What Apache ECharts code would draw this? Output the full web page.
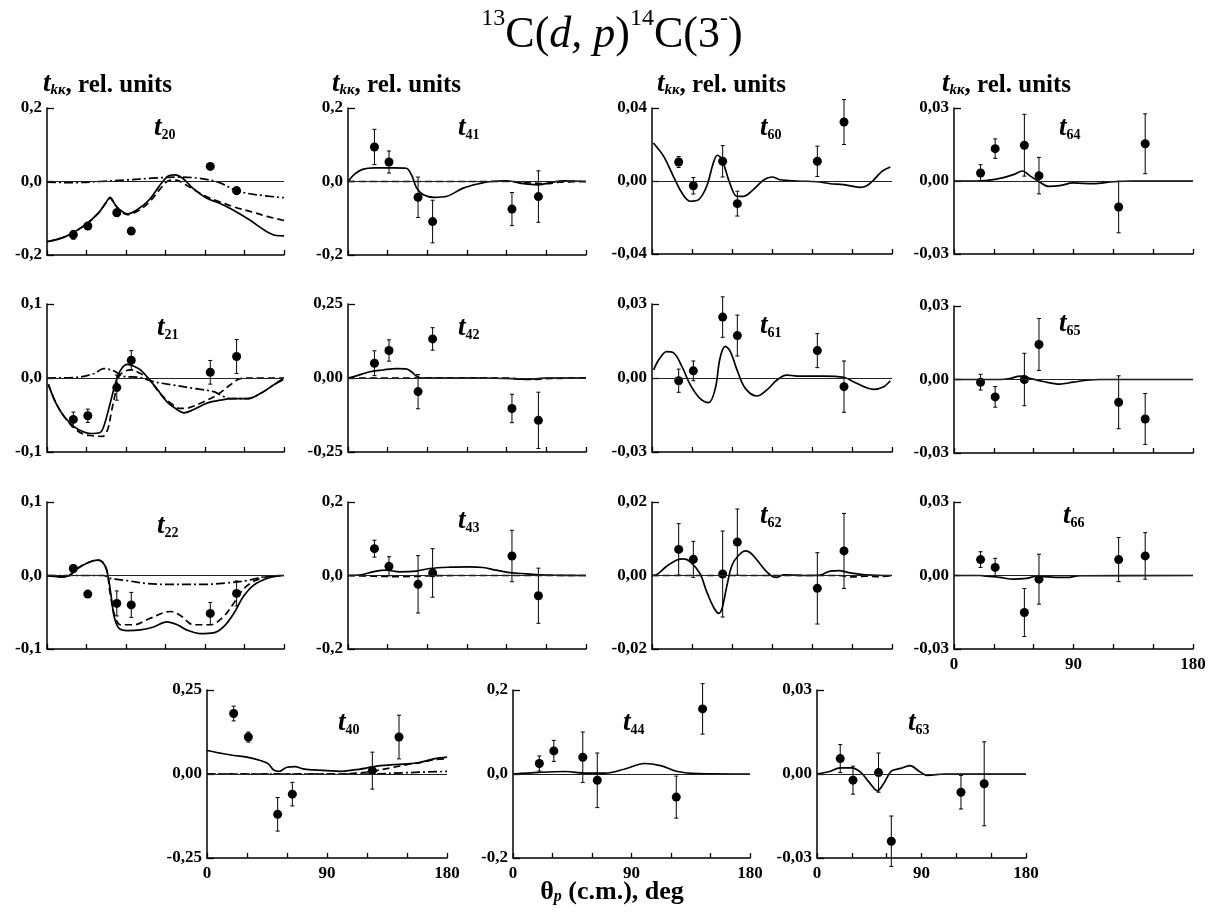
<!DOCTYPE html>
<html>
<head>
<meta charset="utf-8">
<script src="https://cdn.jsdelivr.net/npm/echarts@6/dist/echarts.min.js"></script>
<style>
html, body { margin: 0; padding: 0; background: #fff; }
#chart { width: 1224px; height: 918px; }
</style>
</head>
<body>
<div id="chart"></div>
<script>
// angles (deg, c.m.) of the measured points, same in every panel
var ANG = [20, 31, 53, 64, 124, 144];

// ---- t20 ----
var t20_val = [-0.145, -0.121, -0.085, -0.135, 0.041, -0.025];
var t20_err = [0.012, 0.008, 0.01, 0.008, 0.005, 0.01];
var t20_solid = [[0,-0.164],[14,-0.150],[29,-0.118],[39,-0.086],[44.5,-0.059],[48,-0.043],[51,-0.059],[54.7,-0.075],[61,-0.088],[70,-0.073],[77.6,-0.05],[85,-0.014],[91.6,0.014],[97,0.018],[103,0.009],[110.7,-0.018],[121,-0.045],[131,-0.059],[141,-0.077],[154,-0.105],[166.7,-0.136],[174,-0.147],[180,-0.148]];
var t20_dash = [[0,-0.164],[14,-0.150],[29,-0.118],[39,-0.086],[44.5,-0.059],[48,-0.045],[51,-0.06],[55,-0.077],[61,-0.09],[70,-0.078],[78,-0.055],[86,-0.02],[93,0.003],[98,0.004],[105,-0.008],[113,-0.025],[121,-0.041],[131,-0.055],[141,-0.068],[156,-0.083],[167,-0.095],[180,-0.106]];
var t20_dot = [[0,-0.002],[20,-0.003],[40,0],[60,0.004],[80,0.009],[100,0.012],[115,0.009],[131,-0.003],[144,-0.025],[159,-0.036],[180,-0.044]];

// ---- t41 ----
var t41_val = [0.094, 0.053, -0.043, -0.109, -0.075, -0.041];
var t41_err = [0.048, 0.03, 0.055, 0.058, 0.045, 0.07];
var t41_solid = [[0,0],[5,0.02],[11,0.033],[20,0.037],[35,0.037],[44,0.036],[48,0.018],[52,-0.018],[57,-0.036],[65,-0.043],[75,-0.04],[87,-0.018],[100,-0.005],[108,0],[120,0.002],[133,-0.006],[143,-0.009],[153,-0.003],[163,0.002],[180,0]];
var t41_dash = [[0,0],[120,0],[140,-0.004],[150,-0.006],[160,-0.002],[180,0]];

// ---- t60 ----
var t60_val = [0.0104, -0.0026, 0.0108, -0.0124, 0.0108, 0.0323];
var t60_err = [0.003, 0.0045, 0.0086, 0.0068, 0.0083, 0.0123];
var t60_solid = [[1,0.0208],[8.75,0.0135],[16,0.0026],[22.5,-0.0066],[28.75,-0.0111],[35,-0.0102],[41,-0.0029],[46,0.0099],[49,0.0141],[52.5,0.0117],[58.75,-0.002],[63.75,-0.0084],[68.75,-0.0084],[76,-0.0047],[84,0.0007],[90,0.0022],[96,0.0007],[108.75,0],[123.75,-0.0004],[133.75,-0.0015],[143.75,-0.002],[156,-0.0035],[161,-0.0026],[166,0.0004],[172.5,0.0053],[178.75,0.0077]];

// ---- t64 ----
var t64_val = [0.0033, 0.0133, 0.0147, 0.0022, -0.0107, 0.0153];
var t64_err = [0.0034, 0.004, 0.0127, 0.0075, 0.0106, 0.0123];
var t64_solid = [[0,0],[17,0],[32,0.0008],[44.6,0.0026],[51.6,0.0041],[57,0.0022],[64.7,-0.0005],[71,-0.0022],[79.7,-0.0019],[89.7,-0.0008],[104.8,-0.0011],[119.8,-0.0003],[135,0],[180,0]];

// ---- t21 ----
var t21_val = [-0.056, -0.051, -0.013, 0.024, 0.0077, 0.029];
var t21_err = [0.01, 0.009, 0.017, 0.013, 0.016, 0.023];
var t21_solid = [[1,-0.0086],[6.8,-0.034],[13,-0.052],[20.7,-0.066],[28,-0.073],[33,-0.075],[40,-0.074],[43,-0.066],[48,-0.034],[52,-0.007],[56,0.011],[61,0.0185],[66,0.016],[71,0.011],[77,-0.0005],[84,-0.016],[91,-0.032],[99,-0.043],[104,-0.047],[111,-0.043],[121.5,-0.034],[131.6,-0.03],[141.7,-0.028],[151.8,-0.028],[162,-0.021],[172,-0.0095],[179.5,-0.002]];
var t21_dash = [[1,-0.0086],[6.8,-0.034],[13,-0.052],[20.7,-0.068],[28,-0.076],[35,-0.078],[42,-0.079],[46,-0.07],[49,-0.045],[52,-0.02],[54.7,0.002],[58.5,0.0086],[63.5,0.011],[71,0.006],[77,-0.0005],[86,-0.021],[94,-0.034],[101,-0.041],[108,-0.04],[119,-0.032],[129,-0.023],[139,-0.0095],[146,-0.0014],[155,0],[180,0]];
var t21_dot = [[0,0],[23,0.001],[35.8,0.006],[43,0.0127],[51,0.0095],[58.5,0.002],[70,0.001],[81,-0.005],[96,-0.0095],[111,-0.014],[126.6,-0.0185],[134,-0.025],[140,-0.028],[152,-0.028],[162,-0.021],[172,-0.0095],[180,0]];

// ---- t42 ----
var t42_val = [0.05, 0.093, -0.046, 0.132, -0.103, -0.143];
var t42_err = [0.042, 0.036, 0.058, 0.038, 0.048, 0.095];
var t42_solid = [[0,0],[6.3,0.007],[16.4,0.021],[26.4,0.027],[36.5,0.032],[44,0.031],[48,0.021],[51.6,0.007],[55.4,0],[100,0],[125,-0.002],[132,-0.004],[142,-0.003],[150,0],[180,0]];
var t42_dash = [[0,0],[120,0],[130,-0.004],[140,-0.005],[150,-0.002],[180,0]];

// ---- t61 ----
var t61_val = [-0.0011, 0.0029, 0.0247, 0.0172, 0.0111, -0.0035];
var t61_err = [0.0047, 0.004, 0.0082, 0.0083, 0.0069, 0.0104];
var t61_solid = [[1.25,0.0033],[5,0.0073],[11,0.0107],[16,0.0103],[22.5,0.0046],[28.75,-0.0028],[36,-0.0083],[42.5,-0.01],[47.5,-0.0042],[51,0.008],[55,0.0128],[58.75,0.0107],[63.75,0.0033],[70,-0.0042],[78.75,-0.0073],[86,-0.0049],[93.75,-0.0008],[101,0.0012],[108.75,0.0008],[128.75,0.0008],[143.75,0.0003],[151,-0.0015],[158.75,-0.0035],[166,-0.0046],[173.75,-0.0035],[178.75,-0.0011]];

// ---- t65 ----
var t65_val = [-0.0011, -0.0071, 0, 0.0143, -0.0093, -0.0161];
var t65_err = [0.0032, 0.0042, 0.0107, 0.0106, 0.0108, 0.0104];
var t65_solid = [[0,0],[35,0],[42,0.0004],[50,0.0014],[57,0.0005],[67,-0.0008],[79.7,-0.0019],[89.7,-0.0011],[100,-0.0003],[110,0],[180,0]];

// ---- t22 ----
var t22_val = [0.0095, -0.0253, -0.038, -0.04, -0.0516, -0.0244];
var t22_err = [0.005, 0.004, 0.017, 0.017, 0.015, 0.017];
var t22_solid = [[0,0],[10.6,-0.002],[17,0],[23,0.0095],[32,0.018],[38.3,0.021],[42,0.0186],[45.4,0.0072],[48.4,-0.024],[51,-0.056],[54.7,-0.072],[61,-0.075],[71,-0.074],[81,-0.07],[91,-0.063],[99,-0.067],[106,-0.074],[116.4,-0.079],[126.5,-0.078],[134,-0.07],[141.7,-0.052],[149,-0.029],[157,-0.013],[167,-0.004],[174.4,-0.001],[180,0]];
var t22_dash = [[0,0],[10.6,-0.002],[17,0],[23,0.0095],[32,0.018],[38.3,0.021],[42,0.0186],[45.4,0.0072],[48,-0.025],[52,-0.058],[56,-0.067],[66,-0.067],[78.6,-0.058],[93.8,-0.049],[101,-0.054],[111.4,-0.067],[124,-0.067],[134,-0.056],[141.7,-0.038],[146.7,-0.024],[154,-0.011],[164,-0.003],[172,-0.0005],[180,0]];
var t22_dot = [[0,0],[43,0],[48,-0.004],[61,-0.007],[76,-0.011],[91,-0.012],[106,-0.012],[121,-0.012],[136.6,-0.01],[151.7,-0.007],[164,-0.002],[180,0]];

// ---- t43 ----
var t43_val = [0.073, 0.025, -0.024, 0.007, 0.053, -0.055];
var t43_err = [0.023, 0.026, 0.078, 0.066, 0.07, 0.075];
var t43_solid = [[0,0],[10,0.002],[18.9,0.01],[29,0.0145],[39,0.01],[51.6,0.012],[61.7,0.019],[76.8,0.0226],[92,0.0235],[102,0.0217],[112,0.0145],[122,0.008],[132,0.0054],[142.3,0.0027],[155,0.001],[180,0]];
var t43_dash = [[0,0],[20,-0.002],[40,-0.003],[60,-0.001],[80,0],[180,0]];

// ---- t62 ----
var t62_val = [0.0071, 0.0044, 0.0004, 0.0091, -0.0035, 0.0067];
var t62_err = [0.007, 0.0049, 0.0117, 0.009, 0.0097, 0.0102];
var t62_solid = [[0,0],[3.75,0.0003],[11,0.0025],[18.75,0.0042],[23.75,0.0045],[28.75,0.0037],[36,0.0005],[41,-0.0044],[46,-0.0085],[50,-0.0103],[52.5,-0.009],[56,-0.0031],[60,0.0028],[65,0.0055],[70,0.0067],[73.75,0.0062],[78.75,0.0042],[85,0.0014],[90,-0.0002],[93.75,-0.0005],[98.75,0.0002],[115,0],[126,0.0001],[133.75,0.0012],[140,0.0013],[148.75,0.0007],[160,0.0002],[180,0]];
var t62_dash = [[0,0],[140,0],[150,-0.0004],[160,-0.0002],[170,-0.0003],[180,0]];

// ---- t66 ----
var t66_val = [0.0065, 0.0033, -0.0151, -0.0015, 0.0065, 0.008];
var t66_err = [0.0032, 0.0037, 0.0098, 0.0102, 0.009, 0.0095];
var t66_solid = [[0,0],[20,0],[24.5,-0.0003],[34.6,-0.0008],[44.6,-0.0015],[54.6,-0.0012],[62,-0.0003],[72,-0.0006],[84.7,-0.0008],[95,-0.0001],[180,0]];

// ---- t40 ----
var t40_val = [0.18, 0.11, -0.12, -0.06, 0.01, 0.11];
var t40_err = [0.022, 0.015, 0.05, 0.035, 0.055, 0.065];
var t40_solid = [[0,0.07],[10,0.062],[20,0.055],[30,0.05],[40,0.04],[46,0.03],[50,0.012],[54,0.008],[60,0.02],[66,0.022],[72,0.015],[80,0.012],[90,0.01],[100,0.008],[110,0.012],[120,0.018],[130,0.025],[140,0.028],[150,0.03],[160,0.035],[170,0.045],[180,0.05]];
var t40_dash = [[0,0],[100,0],[120,0.006],[140,0.02],[150,0.028],[160,0.034],[170,0.042],[180,0.046]];
var t40_dot = [[0,0],[120,0],[150,0.004],[180,0.008]];

// ---- t44 ----
var t44_val = [0.025, 0.055, 0.04, -0.015, -0.055, 0.155];
var t44_err = [0.018, 0.025, 0.06, 0.065, 0.05, 0.06];
var t44_solid = [[0,0],[20,0.004],[40,0.006],[55,0.002],[70,0.002],[85,0.012],[100,0.025],[112,0.02],[125,0.006],[140,0.001],[180,0]];

// ---- t63 ----
var t63_val = [0.0055, -0.0022, 0.0005, -0.024, -0.0065, -0.0035];
var t63_err = [0.005, 0.005, 0.007, 0.009, 0.006, 0.015];
var t63_solid = [[0,0],[10,0.0008],[20,0.0022],[30,0.0022],[38,0.0005],[45,-0.003],[52,-0.006],[58,-0.003],[64,0.001],[72,0.002],[80,0.003],[88,0.001],[95,-0.0005],[110,0],[180,0]];

// panel layout: grid box [left, top, width, height], y half-range, decimals, label position
var panels = [
  {k:'20', box:[47,108,237,147], ymax:0.2,  dec:1, v:t20_val, e:t20_err, s:t20_solid, d:t20_dash, dd:t20_dot, lab:[154,127]},
  {k:'41', box:[348,108,238,147], ymax:0.2, dec:1, v:t41_val, e:t41_err, s:t41_solid, d:t41_dash, lab:[458,127]},
  {k:'60', box:[652,108,240,146], ymax:0.04, dec:2, v:t60_val, e:t60_err, s:t60_solid, lab:[760,127]},
  {k:'64', box:[954,108,239,146], ymax:0.03, dec:2, v:t64_val, e:t64_err, s:t64_solid, lab:[1059,127]},
  {k:'21', box:[47,304,237,148], ymax:0.1,  dec:1, v:t21_val, e:t21_err, s:t21_solid, d:t21_dash, dd:t21_dot, lab:[157,327]},
  {k:'42', box:[348,304,238,148], ymax:0.25, dec:2, v:t42_val, e:t42_err, s:t42_solid, d:t42_dash, lab:[458,327]},
  {k:'61', box:[652,304,240,148], ymax:0.03, dec:2, v:t61_val, e:t61_err, s:t61_solid, lab:[760,325]},
  {k:'65', box:[954,306,239,147], ymax:0.03, dec:2, v:t65_val, e:t65_err, s:t65_solid, lab:[1059,323]},
  {k:'22', box:[47,502,237,147], ymax:0.1,  dec:1, v:t22_val, e:t22_err, s:t22_solid, d:t22_dash, dd:t22_dot, lab:[157,525]},
  {k:'43', box:[348,502,238,147], ymax:0.2, dec:1, v:t43_val, e:t43_err, s:t43_solid, d:t43_dash, lab:[458,520]},
  {k:'62', box:[652,502,240,147], ymax:0.02, dec:2, v:t62_val, e:t62_err, s:t62_solid, d:t62_dash, lab:[760,515]},
  {k:'66', box:[954,502,239,147], ymax:0.03, dec:2, v:t66_val, e:t66_err, s:t66_solid, lab:[1063,515], xl:true},
  {k:'40', box:[207,690,240,168], ymax:0.25, dec:2, v:t40_val, e:t40_err, s:t40_solid, d:t40_dash, dd:t40_dot, lab:[338,722], xl:true},
  {k:'44', box:[513,690,237,168], ymax:0.2, dec:1, v:t44_val, e:t44_err, s:t44_solid, lab:[623,722], xl:true},
  {k:'63', box:[817,690,209,168], ymax:0.03, dec:2, v:t63_val, e:t63_err, s:t63_solid, lab:[908,722], xl:true}
];

var FONT = 'Liberation Serif';

var grids = [], xAxes = [], yAxes = [], series = [], graphics = [];

function errorBar(params, api) {
  var x = api.value(0), y = api.value(1), e = api.value(2);
  var p1 = api.coord([x, y + e]);
  var p2 = api.coord([x, y - e]);
  var st = {stroke: '#000', lineWidth: 1};
  return {type: 'group', children: [
    {type: 'line', shape: {x1: p1[0], y1: p1[1], x2: p2[0], y2: p2[1]}, style: st},
    {type: 'line', shape: {x1: p1[0] - 2, y1: p1[1], x2: p1[0] + 2, y2: p1[1]}, style: st},
    {type: 'line', shape: {x1: p2[0] - 2, y1: p2[1], x2: p2[0] + 2, y2: p2[1]}, style: st}
  ]};
}

panels.forEach(function (p, i) {
  grids.push({left: p.box[0], top: p.box[1], width: p.box[2], height: p.box[3], containLabel: false});
  xAxes.push({
    type: 'value', gridIndex: i, min: 0, max: 180, interval: 30,
    axisLine: {onZero: false, lineStyle: {color: '#000', width: 1.5}},
    axisTick: {inside: true, length: 5, lineStyle: {color: '#000', width: 1.3}},
    axisLabel: {show: !!p.xl, margin: 7, color: '#000', fontFamily: FONT, fontWeight: 'bold', fontSize: 17,
      formatter: function (v) { return v % 90 === 0 ? String(v) : ''; }},
    splitLine: {show: false}
  });
  var dec = p.dec;
  yAxes.push({
    type: 'value', gridIndex: i, min: -p.ymax, max: p.ymax, interval: p.ymax,
    axisLine: {show: true, lineStyle: {color: '#000', width: 1.5}},
    axisTick: {show: true, inside: true, length: 7, lineStyle: {color: '#000', width: 1.3}},
    axisLabel: {margin: 5, color: '#000', fontFamily: FONT, fontWeight: 'bold', fontSize: 17,
      formatter: function (v) {
        if (Math.abs(v) < 1e-9) v = 0;
        return v.toFixed(dec).replace('.', ',');
      }},
    splitLine: {show: false}
  });

  function curve(data, type) {
    if (!data) return;
    series.push({
      type: 'line', xAxisIndex: i, yAxisIndex: i, data: data, symbol: 'none', smooth: 0.35,
      silent: true, z: 2,
      lineStyle: {color: '#000', width: 1.7, type: type}
    });
  }
  curve(p.s, 'solid');
  curve(p.d, [7, 4]);
  curve(p.dd, [9, 3, 2, 3]);

  series.push({
    type: 'custom', xAxisIndex: i, yAxisIndex: i, z: 3, silent: true,
    renderItem: errorBar,
    data: ANG.map(function (a, j) { return [a, p.v[j], p.e[j]]; })
  });
  series.push({
    type: 'scatter', xAxisIndex: i, yAxisIndex: i, z: 4, silent: true,
    symbol: 'circle', symbolSize: 9, itemStyle: {color: '#000', opacity: 1},
    data: ANG.map(function (a, j) { return [a, p.v[j]]; }),
    markLine: {silent: true, symbol: 'none', label: {show: false},
      lineStyle: {color: '#222', width: 1, type: 'solid'}, data: [{yAxis: 0}]}
  });

  graphics.push({
    type: 'text', x: p.lab[0], y: p.lab[1],
    style: {
      text: '{t|t}{s|' + p.k + '}', verticalAlign: 'middle', align: 'left',
      rich: {
        t: {fontFamily: FONT, fontStyle: 'italic', fontWeight: 'bold', fontSize: 27, lineHeight: 30, verticalAlign: 'bottom', fill: '#000'},
        s: {fontFamily: FONT, fontWeight: 'bold', fontSize: 14, lineHeight: 14, verticalAlign: 'bottom', fill: '#000'}
      }
    }
  });
});

// "t_kк, rel. units" headers above the first row
[43, 332, 657, 942].forEach(function (x) {
  graphics.push({
    type: 'text', x: x, y: 83,
    style: {
      text: '{t|t}{s|kк}{r|, rel. units}', verticalAlign: 'middle', align: 'left',
      rich: {
        t: {fontFamily: FONT, fontStyle: 'italic', fontWeight: 'bold', fontSize: 27, lineHeight: 30, verticalAlign: 'bottom', fill: '#000'},
        s: {fontFamily: FONT, fontStyle: 'italic', fontWeight: 'bold', fontSize: 15, lineHeight: 15, verticalAlign: 'bottom', fill: '#000'},
        r: {fontFamily: FONT, fontWeight: 'bold', fontSize: 25, lineHeight: 30, verticalAlign: 'bottom', fill: '#000'}
      }
    }
  });
});

// x axis name
graphics.push({
  type: 'text', x: 612, y: 890,
  style: {
    text: '{a|θ}{s|p}{a| (c.m.), deg}', verticalAlign: 'middle', align: 'center',
    rich: {
      a: {fontFamily: FONT, fontWeight: 'bold', fontSize: 26, lineHeight: 30, verticalAlign: 'bottom', fill: '#000'},
      s: {fontFamily: FONT, fontWeight: 'bold', fontStyle: 'italic', fontSize: 16, lineHeight: 14, verticalAlign: 'bottom', fill: '#000'}
    }
  }
});

var chart = echarts.init(document.getElementById('chart'), null, {renderer: 'canvas'});
chart.setOption({
  backgroundColor: '#fff',
  animation: false,
  title: {
    text: '{sup|13}{n|C(}{i|d, p}{n|)}{sup|14}{n|C(3}{sup|-}{n|)}',
    left: 'center', top: 2,
    textStyle: {
      fontWeight: 'normal',
      rich: {
        n: {fontFamily: FONT, fontWeight: 'normal', fontSize: 44, lineHeight: 50, verticalAlign: 'bottom', color: '#000'},
        i: {fontFamily: FONT, fontWeight: 'normal', fontStyle: 'italic', fontSize: 44, lineHeight: 50, verticalAlign: 'bottom', color: '#000'},
        sup: {fontFamily: FONT, fontWeight: 'normal', fontSize: 24, lineHeight: 26, verticalAlign: 'top', color: '#000'}
      }
    }
  },
  grid: grids,
  xAxis: xAxes,
  yAxis: yAxes,
  series: series,
  graphic: graphics
});
</script>
</body>
</html>
